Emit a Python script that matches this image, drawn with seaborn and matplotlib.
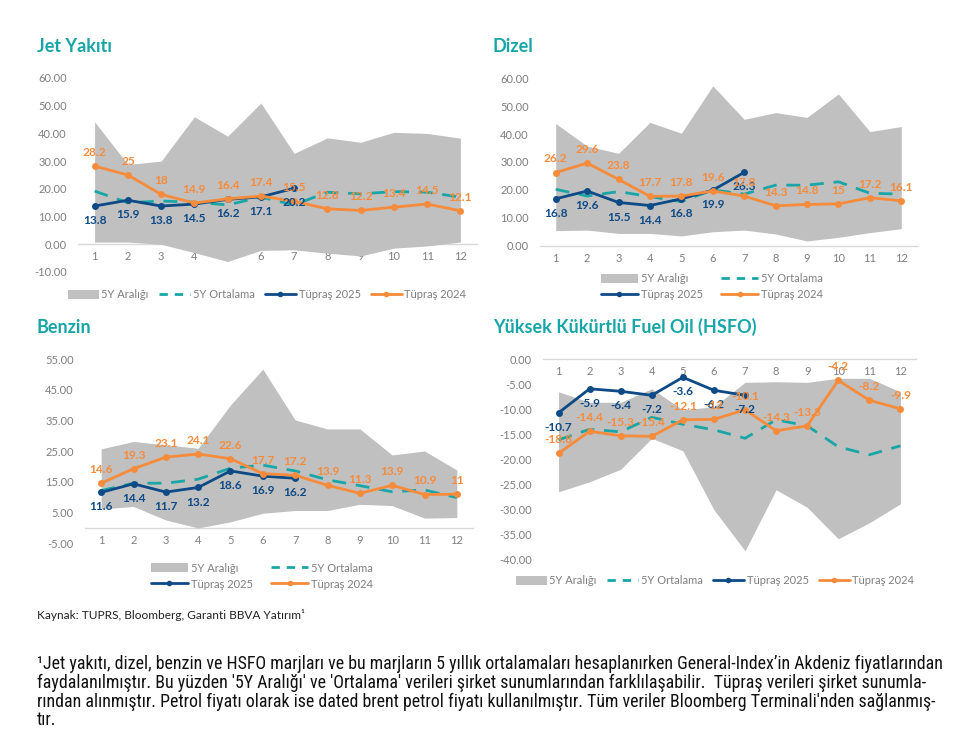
import matplotlib
matplotlib.use("Agg")
import matplotlib.pyplot as plt
import seaborn as sns
import pandas as pd
from matplotlib.lines import Line2D
from matplotlib.patches import Patch

# ---------------- data ----------------
months = list(range(1, 13))

jet_hi = [44.2, 28.8, 30.0, 46.0, 39.0, 51.0, 32.8, 38.4, 36.8, 40.4, 40.0, 38.3]
jet_lo = [0.8, 0.8, 0.0, -3.0, -6.2, -2.2, -2.0, -3.2, -4.2, -1.4, -0.6, 0.8]
jet_avg = [19.2, 15.0, 15.6, 15.2, 14.2, 17.0, 14.2, 18.8, 18.2, 19.0, 18.8, 17.0]
jet_2025 = [13.8, 15.9, 13.8, 14.5, 16.2, 17.1, 20.2]
jet_2024 = [28.2, 25, 18, 14.9, 16.4, 17.4, 15.5, 12.8, 12.2, 13.4, 14.5, 12.1]

diz_hi = [43.8, 35.7, 33.1, 44.2, 40.3, 57.3, 45.3, 47.7, 46.0, 54.4, 40.9, 42.7]
diz_lo = [5.4, 5.6, 4.4, 4.4, 3.5, 5.0, 5.6, 4.2, 1.7, 3.0, 4.7, 6.1]
diz_avg = [20.2, 17.8, 19.4, 17.6, 15.8, 20.0, 18.5, 21.7, 21.7, 22.9, 18.8, 18.5]
diz_2025 = [16.8, 19.6, 15.5, 14.4, 16.8, 19.9, 26.3]
diz_2024 = [26.2, 29.6, 23.8, 17.7, 17.8, 19.6, 17.8, 14.3, 14.8, 15, 17.2, 16.1]

ben_hi = [25.8, 28.2, 27.1, 26.0, 40.1, 51.8, 35.2, 32.3, 32.3, 23.8, 25.1, 18.9]
ben_lo = [6.2, 7.0, 2.6, 0.0, 2.0, 4.8, 5.7, 5.7, 7.7, 7.3, 3.2, 3.4]
ben_avg = [12.2, 14.6, 14.6, 15.9, 19.5, 20.5, 18.6, 15.7, 13.8, 11.8, 12.4, 9.9]
ben_2025 = [11.6, 14.4, 11.7, 13.2, 18.6, 16.9, 16.2]
ben_2024 = [14.6, 19.3, 23.1, 24.1, 22.6, 17.7, 17.2, 13.9, 11.3, 13.9, 10.9, 11]

hsfo_hi = [-6.5, -8.6, -8.6, -5.9, -10.1, -9.5, -4.6, -4.5, -4.6, -3.8, -3.8, -6.5]
hsfo_lo = [-26.5, -24.5, -22.0, -15.8, -18.3, -30.1, -38.3, -26.1, -29.6, -35.9, -32.7, -28.9]
hsfo_avg = [-16.1, -14.0, -14.5, -11.6, -13.0, -14.1, -15.8, -12.1, -13.3, -17.5, -19.1, -17.3]
hsfo_2025 = [-10.7, -5.9, -6.4, -7.2, -3.6, -6.2, -7.2]
hsfo_2024 = [-18.8, -14.4, -15.3, -15.4, -12.1, -12, -10.1, -14.3, -13.3, -4.2, -8.2, -9.9]

titles = ["Jet Yakıtı", "Dizel", "Benzin", "Yüksek Kükürtlü Fuel Oil (HSFO)"]
legend_labels = ["5Y Aralığı", "5Y Ortalama", "Tüpraş 2025", "Tüpraş 2024"]
source_text = "Kaynak: TUPRS, Bloomberg, Garanti BBVA Yatırım¹"
note_lines = [
    "¹Jet yakıtı, dizel, benzin ve HSFO marjları ve bu marjların 5 yıllık ortalamaları hesaplanırken General-Index’in Akdeniz fiyatlarından",
    "faydalanılmıştır. Bu yüzden '5Y Aralığı' ve 'Ortalama' verileri şirket sunumlarından farklılaşabilir.  Tüpraş verileri şirket sunumla-",
    "rından alınmıştır. Petrol fiyatı olarak ise dated brent petrol fiyatı kullanılmıştır. Tüm veriler Bloomberg Terminali'nden sağlanmış-",
    "tır.",
]

# ---------------- style ----------------
sns.set_style("white")
plt.rcParams["font.family"] = ["Lato", "DejaVu Sans"]

TEAL_T = "#17a5a8"
GRAY_RANGE = "#c0c0c0"
TEAL = "#1aa6a6"
NAVY = "#0d4a86"
ORANGE = "#f68b3b"
TICK = "#7f7f7f"
AXLINE = "#d9d9d9"

W, H = 966, 742
fig = plt.figure(figsize=(W / 100, H / 100), dpi=100)
fig.patch.set_facecolor("white")


def px_axes(left, right, top, bottom):
    return fig.add_axes([left / W, 1 - bottom / H, (right - left) / W, (bottom - top) / H])


def draw_panel(ax, hi, lo, avg, y25, y24, ylim, yticks):
    df_rng = pd.DataFrame({"Ay": months, "hi": hi, "lo": lo})
    ax.fill_between(df_rng["Ay"], df_rng["lo"], df_rng["hi"], color=GRAY_RANGE, lw=0, zorder=1)
    df_avg = pd.DataFrame({"Ay": months, "v": avg})
    sns.lineplot(data=df_avg, x="Ay", y="v", ax=ax, color=TEAL, lw=2.0,
                 linestyle=(0, (5, 3.5)), zorder=2)
    df25 = pd.DataFrame({"Ay": months[:len(y25)], "v": y25})
    sns.lineplot(data=df25, x="Ay", y="v", ax=ax, color=NAVY, lw=2.0, marker="o",
                 markersize=5, markeredgewidth=0, zorder=3)
    df24 = pd.DataFrame({"Ay": months, "v": y24})
    sns.lineplot(data=df24, x="Ay", y="v", ax=ax, color=ORANGE, lw=2.0, marker="o",
                 markersize=5, markeredgewidth=0, zorder=4)
    for x, v in zip(df25["Ay"], df25["v"]):
        ax.annotate(f"{v:g}", (x, v), xytext=(0, -10.5), textcoords="offset points",
                    ha="center", va="center", fontsize=8.6, fontweight="bold", color=NAVY, zorder=6)
    for x, v in zip(df24["Ay"], df24["v"]):
        ax.annotate(f"{v:g}", (x, v), xytext=(0, 9.8), textcoords="offset points",
                    ha="center", va="center", fontsize=8.6, fontweight="bold", color=ORANGE, zorder=6)
    ax.set_xlim(0.5, 12.5)
    ax.set_ylim(*ylim)
    ax.set_yticks(yticks)
    ax.set_yticklabels([f"{t:.2f}" for t in yticks])
    ax.set_xticks(months)
    ax.set_xticklabels([str(m) for m in months])
    ax.set_xlabel("")
    ax.set_ylabel("")
    for s in ["top", "right", "left"]:
        ax.spines[s].set_visible(False)
    ax.spines["bottom"].set_position(("data", 0))
    ax.spines["bottom"].set_color(AXLINE)
    ax.spines["bottom"].set_linewidth(1.0)
    ax.spines["bottom"].set_zorder(0.5)
    ax.tick_params(axis="x", length=0, pad=5, labelsize=8, labelcolor=TICK)
    ax.tick_params(axis="y", length=0, pad=8, labelsize=8, labelcolor=TICK)
    ax.patch.set_alpha(0)


def add_legend(ax, ncol, cx, cy):
    h_rng = Patch(facecolor=GRAY_RANGE, edgecolor="none")
    h_avg = Line2D([], [], color=TEAL, lw=2.0, linestyle=(0, (3, 2.5)))
    h25 = Line2D([], [], color=NAVY, lw=2.0, marker="o", markersize=4, markeredgewidth=0)
    h24 = Line2D([], [], color=ORANGE, lw=2.0, marker="o", markersize=4, markeredgewidth=0)
    hs = [h_rng, h_avg, h25, h24]
    labs = legend_labels
    if ncol == 2:
        hs = [hs[0], hs[2], hs[1], hs[3]]
        labs = [labs[0], labs[2], labs[1], labs[3]]
        kw = dict(handlelength=3.3, columnspacing=1.7)
    else:
        kw = dict(handlelength=2.8, columnspacing=0.9)
    ax.legend(hs, labs, loc="center", bbox_to_anchor=(cx / W, 1 - cy / H),
              bbox_transform=fig.transFigure, ncol=ncol, frameon=False,
              fontsize=8, labelcolor=TICK, handleheight=0.8, handletextpad=0.25,
              labelspacing=0.45, **kw)


# Jet
ax1 = px_axes(78, 477, 78, 272)
draw_panel(ax1, jet_hi, jet_lo, jet_avg, jet_2025, jet_2024, (-10, 60), list(range(-10, 61, 10)))
add_legend(ax1, 4, 267, 295)

# Dizel
ax2 = px_axes(540, 917, 78.3, 245.7)
draw_panel(ax2, diz_hi, diz_lo, diz_avg, diz_2025, diz_2024, (0, 60), list(range(0, 61, 10)))
add_legend(ax2, 2, 712, 287)

# Benzin
ax3 = px_axes(85, 473, 359.3, 543.3)
draw_panel(ax3, ben_hi, ben_lo, ben_avg, ben_2025, ben_2024, (-5, 55), list(range(-5, 56, 10)))
add_legend(ax3, 2, 262, 576)

# HSFO
ax4 = px_axes(543, 916, 359.3, 559.3)
draw_panel(ax4, hsfo_hi, hsfo_lo, hsfo_avg, hsfo_2025, hsfo_2024, (-40, 0), list(range(-40, 1, 5)))
add_legend(ax4, 4, 715, 581)

# titles
for (x, y), t in zip([(37, 47), (493, 47), (37, 327), (493, 327)], titles):
    fig.text(x / W, 1 - y / H, t, color=TEAL_T, fontsize=13, fontweight="bold",
             ha="left", va="center")

fig.text(37 / W, 1 - 615 / H, source_text, fontsize=8.6, color="#222222", ha="left", va="center")

note_family = ["Roboto Condensed", "Lato", "DejaVu Sans"]
note_texts = []
for i, line in enumerate(note_lines):
    note_texts.append(fig.text(37 / W, 1 - (664 + 18.8 * i) / H, line, fontsize=11, color="#111111",
                               ha="left", va="center", family=note_family))

# fit the first footnote line to the reference width (~906 px)
fig.canvas.draw()
rend = fig.canvas.get_renderer()
w0 = note_texts[0].get_window_extent(rend).width
fs = 11 * 906 / w0
for t in note_texts:
    t.set_fontsize(fs)

fig.savefig("out.png", dpi=100, facecolor="white")
